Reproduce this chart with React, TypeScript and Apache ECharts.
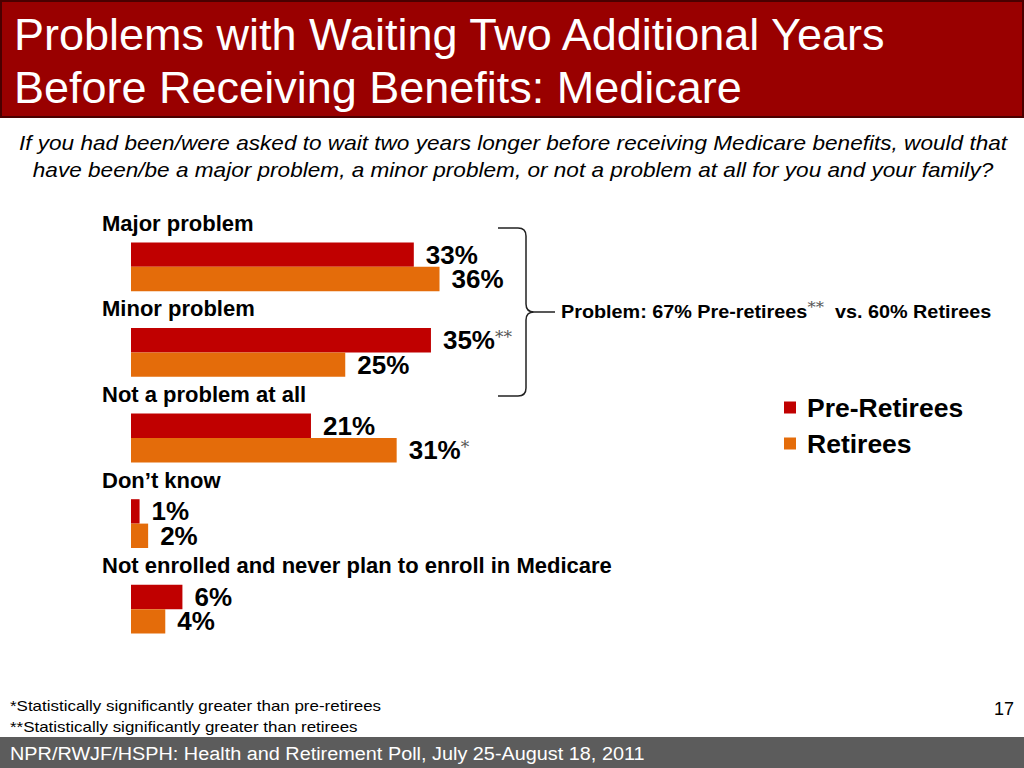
import React, { useEffect, useRef } from "react";
import * as echarts from "echarts";

const categories = [
  "Major problem",
  "Minor problem",
  "Not a problem at all",
  "Don\u2019t know",
  "Not enrolled and never plan to enroll in Medicare",
];
const preRetirees = [33, 35, 21, 1, 6];
const retirees = [36, 25, 31, 2, 4];
const preAsterisks = ["", "**", "", "", ""];
const retAsterisks = ["", "", "*", "", ""];
const seriesNames = ["Pre-Retirees", "Retirees"];

const RED = "#C00000";
const ORANGE = "#E46C0A";
const FONT = "Liberation Sans, Arial, sans-serif";

echarts.graphic.registerShape(
  "brace",
  echarts.graphic.extendPath(
    "M0,0 L20,0 Q28,0 28,8 L28,76 Q28,84 36,84 L57,84 M36,84 Q28,84 28,92 L28,160 Q28,168 20,168 L0,168",
    {}
  )
);

export default function App() {
  const ref = useRef<HTMLDivElement>(null);
  useEffect(() => {
    if (!ref.current) return;
    const chart = echarts.init(ref.current, null, { renderer: "svg" });
    const labelRich = {
      v: { fontSize: 26, fontWeight: "bold", color: "#000", fontFamily: FONT, lineHeight: 23 },
      s: { fontSize: 17, color: "#555", fontFamily: "DejaVu Serif, serif", verticalAlign: "top", lineHeight: 14, padding: [0, 0, 9, 0] },
    };
    const makeLabel = (ast: string[]) => ({
      show: true,
      position: "right",
      distance: 12,
      formatter: (p: any) => `{v|${p.value}%}` + (ast[p.dataIndex] ? `{s|${ast[p.dataIndex]}}` : ""),
      rich: labelRich,
    });
    chart.setOption({
      animation: false,
      backgroundColor: "#fff",
      grid: { left: 131, top: 224, width: 857, height: 428, containLabel: false },
      xAxis: { type: "value", min: 0, max: 100, show: false },
      yAxis: {
        type: "category",
        inverse: true,
        data: categories,
        axisLine: { show: false },
        axisTick: { show: false },
        splitLine: { show: false },
        axisLabel: {
          interval: 0,
          showMinLabel: true,
          showMaxLabel: true,
          hideOverlap: false,
          align: "left",
          margin: 29,
          verticalAlign: "middle",
          formatter: (v: string) => `{a|${v}}\n{b|}`,
          rich: {
            a: { fontSize: 22, fontWeight: "bold", color: "#000", fontFamily: FONT, lineHeight: 24, align: "left" },
            b: { height: 87, lineHeight: 87, fontSize: 10 },
          },
        },
      },
      legend: {
        data: seriesNames,
        orient: "vertical",
        left: 784,
        top: 394,
        padding: 0,
        icon: "rect",
        itemWidth: 12,
        itemHeight: 12,
        itemGap: 9,
        textStyle: { fontSize: 26.5, fontWeight: "bold", color: "#000", fontFamily: FONT, padding: [0, 0, 0, 6] },
      },
      series: [
        {
          name: seriesNames[0],
          type: "bar",
          data: preRetirees,
          barGap: "0%",
          barCategoryGap: "43%",
          itemStyle: { color: RED },
          label: makeLabel(preAsterisks),
        },
        {
          name: seriesNames[1],
          type: "bar",
          data: retirees,
          barGap: "0%",
          barCategoryGap: "43%",
          itemStyle: { color: ORANGE },
          label: makeLabel(retAsterisks),
        },
      ],
      graphic: [
        {
          type: "rect",
          shape: { x: 1, y: 1, width: 1022, height: 116 },
          style: { fill: "#990000", stroke: "#4a0000", lineWidth: 2 },
        },
        {
          type: "text",
          x: 14,
          y: 34,
          style: { text: "Problems with Waiting Two Additional Years", fill: "#fff", fontSize: 45, fontFamily: FONT, verticalAlign: "middle" },
        },
        {
          type: "text",
          x: 14,
          y: 87,
          style: { text: "Before Receiving Benefits: Medicare", fill: "#fff", fontSize: 45, fontFamily: FONT, verticalAlign: "middle" },
        },
        {
          type: "text",
          x: 513,
          y: 143,
          scaleX: 1.13,
          style: {
            text: "If you had been/were asked to wait two years longer before receiving Medicare benefits, would that",
            fill: "#000", fontSize: 20, fontStyle: "italic", fontFamily: FONT, align: "center", verticalAlign: "middle",
          },
        },
        {
          type: "text",
          x: 513,
          y: 170,
          scaleX: 1.13,
          style: {
            text: "have been/be a major problem, a minor problem, or not a problem at all for you and your family?",
            fill: "#000", fontSize: 20, fontStyle: "italic", fontFamily: FONT, align: "center", verticalAlign: "middle",
          },
        },
        {
          type: "brace",
          x: 498,
          y: 228,
          style: { fill: "none", stroke: "#222", lineWidth: 1.5 },
        },
        {
          type: "text",
          x: 561,
          y: 312,
          scaleX: 1.1,
          style: {
            text: "{t|Problem: 67% Pre-retirees}{s|**}{t|  vs. 60% Retirees}",
            verticalAlign: "middle",
            rich: {
              t: { fontSize: 18, fontWeight: "bold", fill: "#000", fontFamily: FONT },
              s: { fontSize: 15, fill: "#555", fontFamily: "DejaVu Serif, serif", verticalAlign: "top", padding: [0, 0, 10, 0] },
            },
          },
        },
        {
          type: "text",
          x: 10,
          y: 706,
          scaleX: 1.13,
          style: { text: "*Statistically significantly greater than pre-retirees", fill: "#000", fontSize: 15, fontFamily: FONT, verticalAlign: "middle" },
        },
        {
          type: "text",
          x: 10,
          y: 727,
          scaleX: 1.13,
          style: { text: "**Statistically significantly greater than retirees", fill: "#000", fontSize: 15, fontFamily: FONT, verticalAlign: "middle" },
        },
        {
          type: "text",
          x: 1014,
          y: 709,
          style: { text: "17", fill: "#000", fontSize: 18, fontFamily: FONT, align: "right", verticalAlign: "middle" },
        },
        {
          type: "rect",
          shape: { x: 0, y: 737, width: 1024, height: 31 },
          style: { fill: "#5c5c5c" },
        },
        {
          type: "text",
          x: 10,
          y: 753,
          scaleX: 1.045,
          style: { text: "NPR/RWJF/HSPH: Health and Retirement Poll, July 25-August 18, 2011", fill: "#fff", fontSize: 19, fontFamily: FONT, verticalAlign: "middle" },
        },
      ],
    });
    return () => chart.dispose();
  }, []);
  return <div ref={ref} style={{ position: "absolute", left: 0, top: 0, width: 1024, height: 768 }} />;
}
